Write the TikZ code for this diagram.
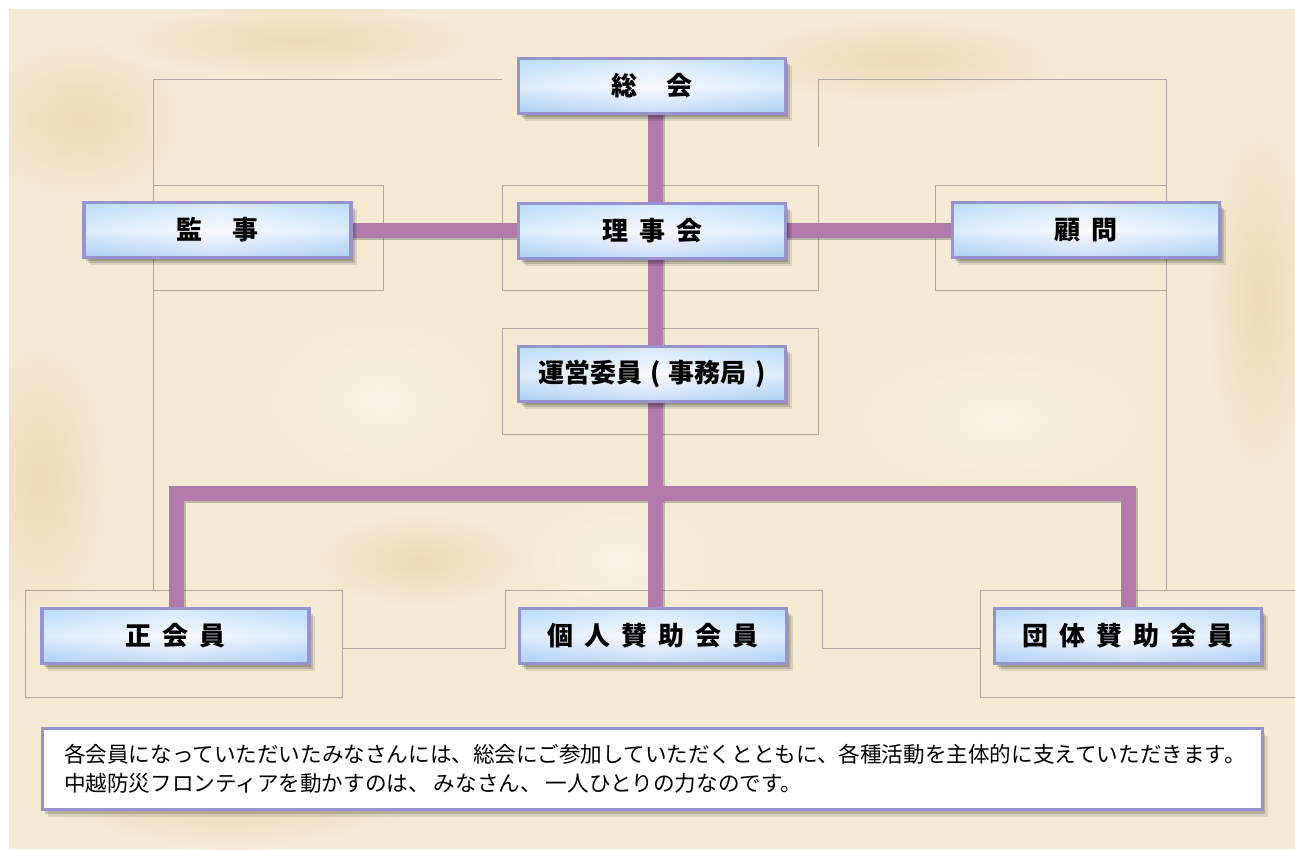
\documentclass[tikz,border=0pt]{standalone}
\usepackage{fontspec}
\newfontfamily\jp{Noto Sans CJK JP}
\usetikzlibrary{shadows}
\definecolor{parch}{RGB}{244,234,212}
\definecolor{blot}{RGB}{238,217,184}
\definecolor{blotw}{RGB}{249,243,230}
\definecolor{conncol}{RGB}{178,122,170}
\definecolor{boxline}{RGB}{150,147,206}
\definecolor{boxtop}{RGB}{186,220,250}
\definecolor{boxbot}{RGB}{162,196,240}
\definecolor{boxmid}{RGB}{250,250,254}
\definecolor{framecol}{RGB}{176,168,158}
\pgfdeclarelayer{back}
\pgfdeclarelayer{wires}
\pgfsetlayers{back,wires,main}
\begin{document}
\begin{tikzpicture}[x=1pt,y=-1pt,
  orgbox/.style={line width=3.5pt, minimum width=267pt, minimum height=55pt, inner sep=0pt,
    drop shadow={shadow xshift=6pt, shadow yshift=-7pt, opacity=0.10, fill=black},
    drop shadow={shadow xshift=4pt, shadow yshift=-5pt, opacity=0.14, fill=black},
    drop shadow={shadow xshift=2pt, shadow yshift=-3pt, opacity=0.16, fill=black},
    preaction={fill opacity=1, top color=boxtop, bottom color=boxbot, middle color=boxmid},
    left color=boxtop, right color=boxtop, middle color=boxmid, fill opacity=0.45,
    draw=boxline, draw opacity=1, text opacity=1,
    font=\jp\bfseries\fontsize{26}{30}\selectfont},
  notebox/.style={line width=3pt, minimum width=1220pt, minimum height=81pt, inner sep=0pt,
    draw=boxline, fill=white, align=left, text width=1176pt,
    drop shadow={shadow xshift=6pt, shadow yshift=-7pt, opacity=0.10, fill=black},
    drop shadow={shadow xshift=3pt, shadow yshift=-4pt, opacity=0.16, fill=black},
    font=\jp\fontsize{21.6}{29}\selectfont},
  conn/.style={draw=conncol, line width=15pt},
  connshade/.style={draw=black, opacity=0.22, line width=15pt},
  frame/.style={draw=framecol, line width=0.8pt}
]
\useasboundingbox (0,0) rectangle (1295,849);

% nodes
\node[orgbox] (zk) at (652,86) {総\hspace{30pt}会};
\node[orgbox] (rj) at (652,231) {理\hspace{11pt}事\hspace{11pt}会};
\node[orgbox] (kj) at (217.5,230) {監\hspace{30pt}事};
\node[orgbox] (km) at (1086,230) {顧\hspace{11pt}問};
\node[orgbox] (un) at (652,374) {運営委員\hspace{8pt}(\hspace{8pt}事務局\hspace{8pt})};
\node[orgbox] (sei) at (175.5,636) {正\hspace{11pt}会\hspace{11pt}員};
\node[orgbox] (kojin) at (653,636) {個\hspace{11pt}人\hspace{11pt}賛\hspace{11pt}助\hspace{11pt}会\hspace{11pt}員};
\node[orgbox] (dantai) at (1128,636) {団\hspace{11pt}体\hspace{11pt}賛\hspace{11pt}助\hspace{11pt}会\hspace{11pt}員};
\node[notebox] (note) at (652,769) {各会員になっていただいたみなさんには、総会にご参加していただくとともに、各種活動を主体的に支えていただきます。\\中越防災フロンティアを動かすのは、\hspace{4pt}みなさん、\hspace{4pt}一人ひとりの力なのです。};

\coordinate (tx) at (655,0);
\coordinate (bl) at (176,493);
\coordinate (br) at (1128,493);

\begin{pgfonlayer}{back}
  \fill[white] (0,0) rectangle (1295,849);
  \fill[parch] (9,9) rectangle (1295,849);
  \begin{scope}
    \clip (9,9) rectangle (1295,849);
    \shade[inner color=blot, outer color=parch] (80,120) ellipse [x radius=120pt, y radius=90pt];
    \shade[inner color=blot, outer color=parch] (300,40) ellipse [x radius=200pt, y radius=40pt];
    \shade[inner color=blot, outer color=parch] (40,480) ellipse [x radius=80pt, y radius=160pt];
    \shade[inner color=blot, outer color=parch] (230,800) ellipse [x radius=200pt, y radius=50pt];
    \shade[inner color=blot, outer color=parch] (1260,300) ellipse [x radius=60pt, y radius=200pt];
    \shade[inner color=blot, outer color=parch] (900,60) ellipse [x radius=180pt, y radius=45pt];
    \shade[inner color=blot, outer color=parch] (420,560) ellipse [x radius=120pt, y radius=50pt];
    \shade[inner color=blotw, outer color=parch] (620,560) ellipse [x radius=90pt, y radius=60pt];
    \shade[inner color=blotw, outer color=parch] (1000,420) ellipse [x radius=140pt, y radius=70pt];
    \shade[inner color=blotw, outer color=parch] (380,400) ellipse [x radius=110pt, y radius=80pt];
  \end{scope}
  % decorative frame lines
  \draw[frame] (153,185) -- (153,79) -- (502,79);
  \draw[frame] (818,147) -- (818,79) -- (1166,79) -- (1166,590);
  \draw[frame] (153,185) rectangle (383,290);
  \draw[frame] (153,290) -- (153,590);
  \draw[frame] (502,185) rectangle (818,290);
  \draw[frame] (935,185) rectangle (1166,290);
  \draw[frame] (502,328) rectangle (818,434);
  \draw[frame] (25,590) rectangle (342,697);
  \draw[frame] (342,648) -- (505,648) -- (505,590) -- (822,590) -- (822,648) -- (980,648);
  \draw[frame] (1295,590) -- (980,590) -- (980,697) -- (1295,697);
\end{pgfonlayer}

\begin{pgfonlayer}{wires}
  \begin{scope}[transform canvas={shift={(2pt,-2pt)}}]
    \draw[connshade] (zk.center -| tx) -- (kojin.center -| tx);
    \draw[connshade] (kj.center) -- (km.center);
    \draw[connshade] (bl |- sei.center) -- (bl) -- (br) -- (br |- dantai.center);
  \end{scope}
  \draw[conn] (zk.center -| tx) -- (kojin.center -| tx);
  \draw[conn] (kj.center) -- (km.center);
  \draw[conn] (bl |- sei.center) -- (bl) -- (br) -- (br |- dantai.center);
\end{pgfonlayer}
\end{tikzpicture}
\end{document}
